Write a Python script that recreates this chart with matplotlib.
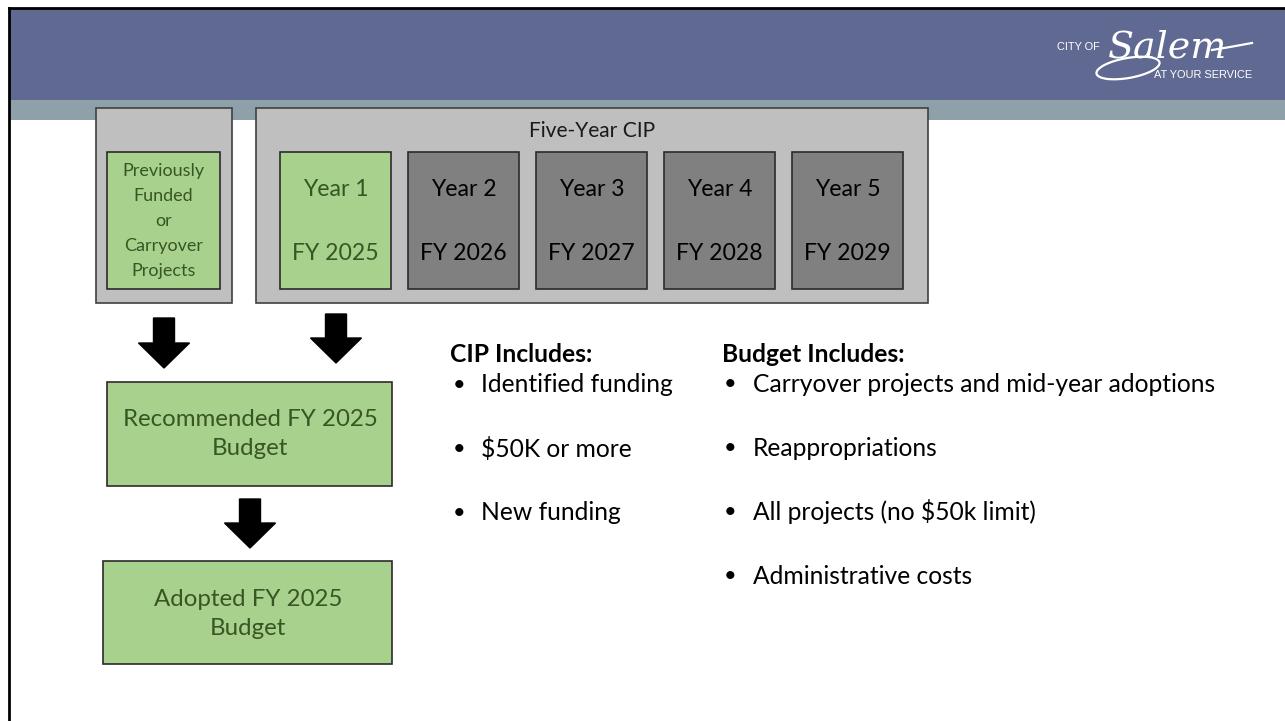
import matplotlib
matplotlib.use("Agg")
import matplotlib.pyplot as plt
from matplotlib.patches import Rectangle, FancyArrow, Ellipse

plt.rcParams['font.family'] = ['Lato', 'DejaVu Sans']

# slide content
prior_label = "Previously\nFunded\nor\nCarryover\nProjects"
cip_title = "Five-Year CIP"
year_labels = ["Year 1", "Year 2", "Year 3", "Year 4", "Year 5"]
fy_labels = ["FY 2025", "FY 2026", "FY 2027", "FY 2028", "FY 2029"]
recommended_label = "Recommended FY 2025\nBudget"
adopted_label = "Adopted FY 2025\nBudget"
cip_heading = "CIP Includes:"
cip_items = ["Identified funding", "$50K or more", "New funding"]
budget_heading = "Budget Includes:"
budget_items = ["Carryover projects and mid-year adoptions", "Reappropriations",
                "All projects (no $50k limit)", "Administrative costs"]

GREEN = '#a9d18e'
GREEN_TXT = '#375623'
LIGHT_GREY = '#bfbfbf'
DARK_GREY = '#808080'
EDGE = '#2b2b2b'

def pt(px):
    return px * 0.72

fig = plt.figure(figsize=(12.85, 7.21), dpi=100)
ax = fig.add_axes([0, 0, 1, 1])
ax.set_xlim(0, 1285)
ax.set_ylim(721, 0)
ax.axis('off')

# header bands and slide frame
ax.add_patch(Rectangle((9, 8), 1280, 92, facecolor='#5f6991', edgecolor='none'))
ax.add_patch(Rectangle((9, 100), 1280, 20, facecolor='#8ea0aa', edgecolor='none'))
ax.plot([9, 1285], [8, 8], color='black', lw=2)
ax.plot([9, 9], [8, 721], color='black', lw=2)

# logo
ax.text(1100, 47, "CITY OF", color='white', fontsize=pt(11), ha='right', va='center',
        family='Liberation Sans')
ax.text(1108, 48, "Salem", color='white', fontsize=pt(38), ha='left', va='center',
        family='DejaVu Serif', style='italic')
ax.add_patch(Ellipse((1128, 68), 64, 20, angle=-10, facecolor='none', edgecolor='white', lw=1.6))
ax.plot([1212, 1230, 1252], [50, 47, 43], color='white', lw=1.6)
ax.text(1252, 75, "AT YOUR SERVICE", color='white', fontsize=pt(11), ha='right', va='center',
        family='Liberation Sans')

# previously funded box
ax.add_patch(Rectangle((96, 108), 136, 195, facecolor=LIGHT_GREY, edgecolor='#404040', lw=1.2))
ax.add_patch(Rectangle((107, 152), 113, 137, facecolor=GREEN, edgecolor=EDGE, lw=1.2))
ax.text(163.5, 221, prior_label, ha='center', va='center', color=GREEN_TXT,
        fontsize=pt(18), linespacing=1.68)

# five-year CIP
ax.add_patch(Rectangle((256, 108), 672, 195, facecolor=LIGHT_GREY, edgecolor='#404040', lw=1.2))
ax.text(592, 131, cip_title, ha='center', va='center', color='#1a1a1a', fontsize=pt(21))
for i, (yl, fy) in enumerate(zip(year_labels, fy_labels)):
    x0 = 280 + i * 128
    fc = GREEN if i == 0 else DARK_GREY
    tc = GREEN_TXT if i == 0 else 'black'
    ax.add_patch(Rectangle((x0, 152), 111, 137, facecolor=fc, edgecolor=EDGE, lw=1.2))
    ax.text(x0 + 55.5, 190, yl, ha='center', va='center', color=tc, fontsize=pt(23))
    ax.text(x0 + 55.5, 254, fy, ha='center', va='center', color=tc, fontsize=pt(23))

# arrows
for xc, y0, y1 in [(164, 318, 368), (336, 314, 363), (250, 499, 548)]:
    ax.add_patch(FancyArrow(xc, y0, 0, y1 - y0, width=21, head_width=51, head_length=25,
                            length_includes_head=True, color='black'))

# budget boxes
ax.add_patch(Rectangle((107, 382), 285, 104, facecolor=GREEN, edgecolor=EDGE, lw=1.2))
ax.text(250, 434, recommended_label, ha='center', va='center', color=GREEN_TXT,
        fontsize=pt(24), linespacing=1.52)
ax.add_patch(Rectangle((103, 561), 289, 103, facecolor=GREEN, edgecolor=EDGE, lw=1.2))
ax.text(248, 614, adopted_label, ha='center', va='center', color=GREEN_TXT,
        fontsize=pt(24), linespacing=1.52)

# bullet lists
ax.text(450, 354, cip_heading, ha='left', va='center', fontweight='bold', fontsize=pt(24.6),
        color='black')
for k, item in enumerate(cip_items):
    y = 385 + k * 64
    ax.text(453, y, "\u2022", ha='left', va='center', fontsize=pt(22), color='black')
    ax.text(481, y, item, ha='left', va='center', fontsize=pt(24.6), color='black')

ax.text(722, 354, budget_heading, ha='left', va='center', fontweight='bold', fontsize=pt(24.6),
        color='black')
for k, item in enumerate(budget_items):
    y = 384 + k * 64
    ax.text(724, y, "\u2022", ha='left', va='center', fontsize=pt(22), color='black')
    ax.text(753, y, item, ha='left', va='center', fontsize=pt(24.6), color='black')

fig.savefig('out.png', dpi=100, facecolor='white')
